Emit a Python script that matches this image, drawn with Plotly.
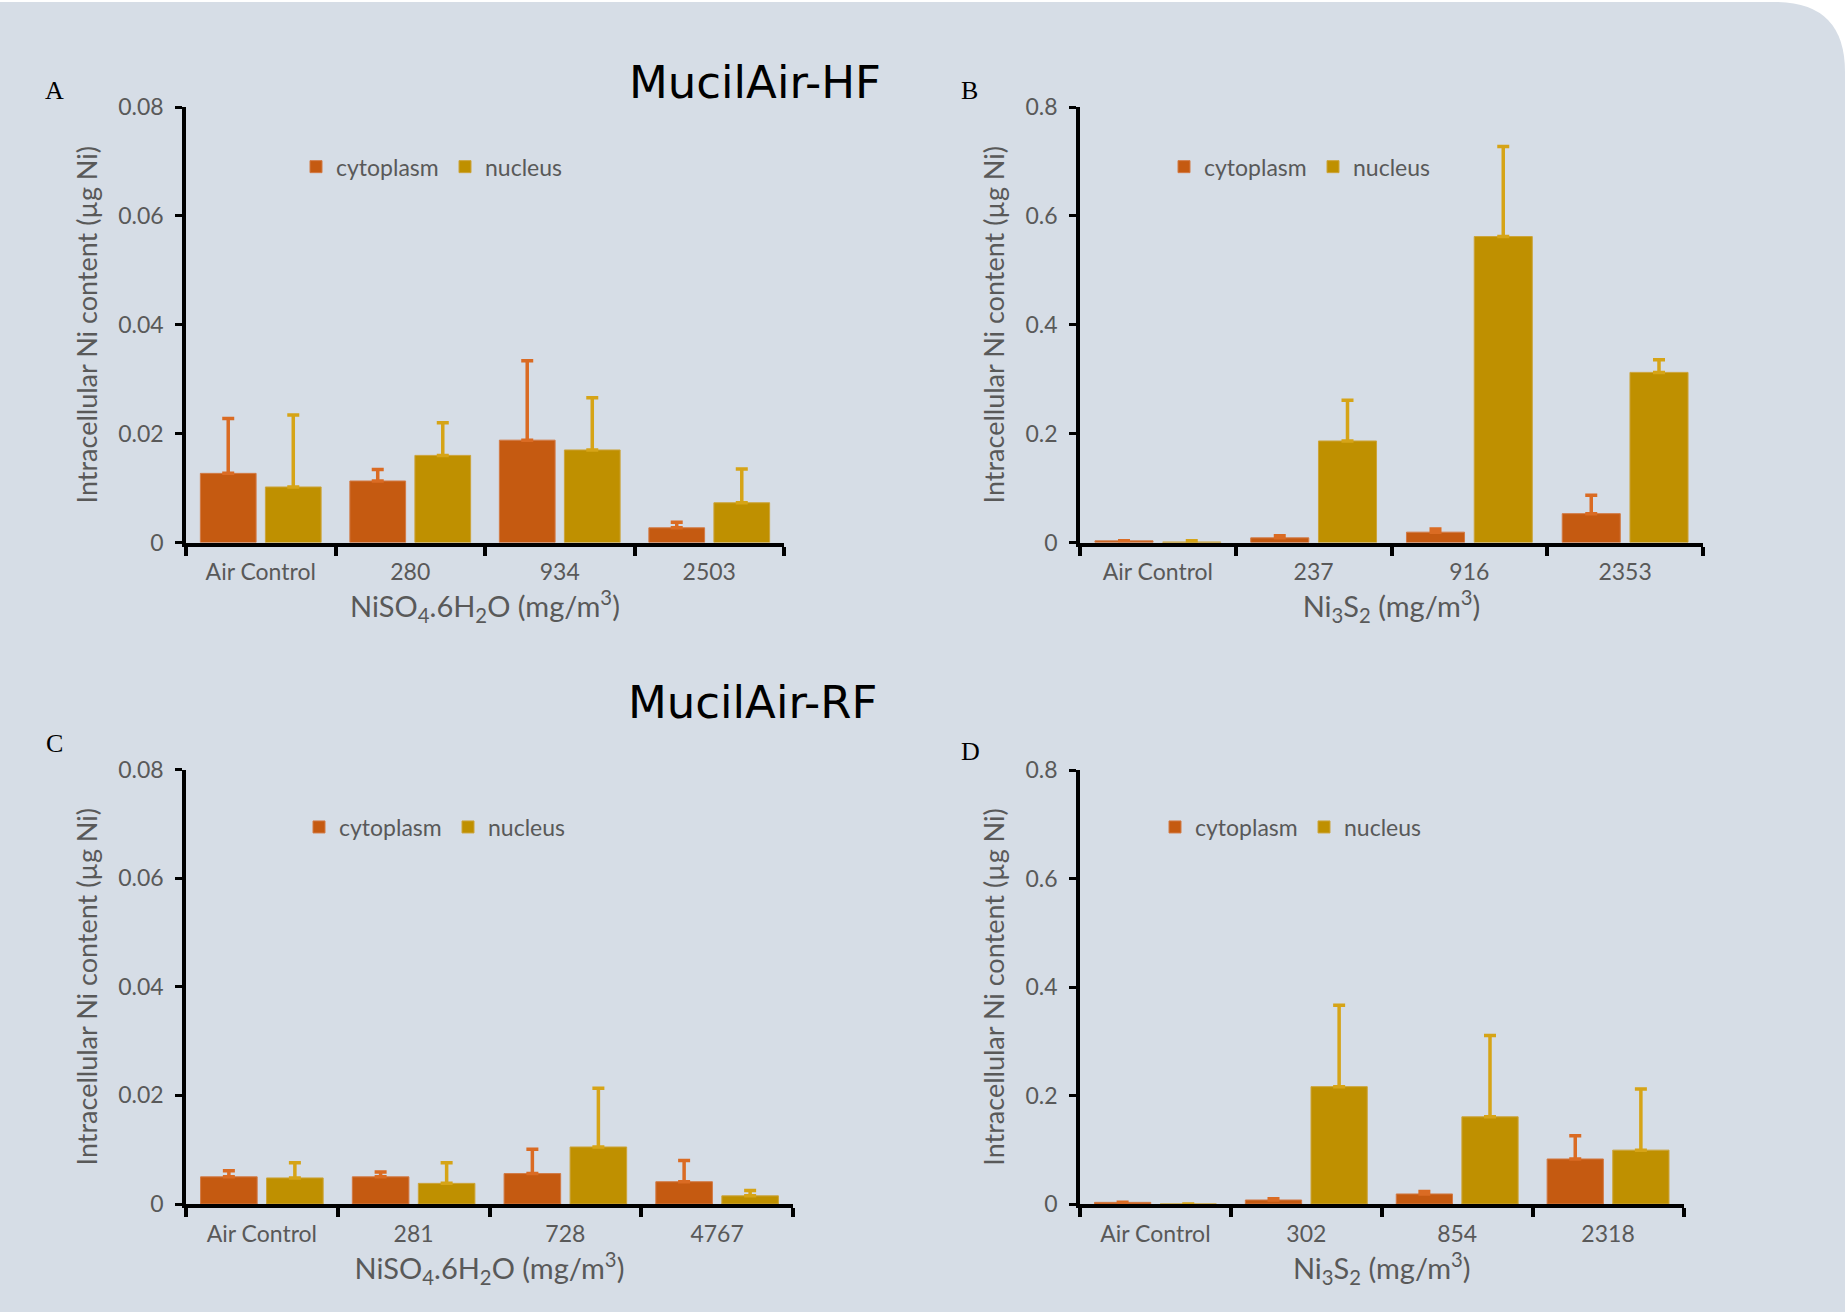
import plotly.graph_objects as go

W, H = 1845, 1312

# ---------------- data ----------------
cats_A = ["Air Control", "280", "934", "2503"]
cyto_A = [0.0127, 0.0113, 0.0188, 0.0027]
cyto_err_A = [0.0101, 0.0021, 0.0146, 0.0010]
nuc_A = [0.0102, 0.0160, 0.0170, 0.0073]
nuc_err_A = [0.0132, 0.0060, 0.0096, 0.0062]

cats_B = ["Air Control", "237", "916", "2353"]
cyto_B = [0.003, 0.0085, 0.019, 0.053]
cyto_err_B = [0.0, 0.004, 0.0056, 0.0337]
nuc_B = [0.001, 0.1865, 0.562, 0.3125]
nuc_err_B = [0.002, 0.075, 0.1655, 0.023]

cats_C = ["Air Control", "281", "728", "4767"]
cyto_C = [0.0050, 0.0050, 0.0056, 0.0041]
cyto_err_C = [0.0011, 0.0009, 0.0045, 0.0039]
nuc_C = [0.0048, 0.0038, 0.0105, 0.0015]
nuc_err_C = [0.0028, 0.0038, 0.0108, 0.0010]

cats_D = ["Air Control", "302", "854", "2318"]
cyto_D = [0.003, 0.0074, 0.0185, 0.083]
cyto_err_D = [0.0, 0.0022, 0.0045, 0.043]
nuc_D = [0.0, 0.2163, 0.1607, 0.0993]
nuc_err_D = [0.0, 0.150, 0.150, 0.1126]

ticks_small = [0, 0.02, 0.04, 0.06, 0.08]
ticks_small_txt = ["0", "0.02", "0.04", "0.06", "0.08"]
ticks_big = [0, 0.2, 0.4, 0.6, 0.8]
ticks_big_txt = ["0", "0.2", "0.4", "0.6", "0.8"]

series_names = ["cytoplasm", "nucleus"]
xtitle_sulfate = "NiSO<sub>4</sub>.6H<sub>2</sub>O (mg/m<sup>3</sup>)"
xtitle_sulfide = "Ni<sub>3</sub>S<sub>2</sub> (mg/m<sup>3</sup>)"
ytitle = "Intracellular Ni content (µg Ni)"

# ---------------- style ----------------
C_CYTO = "#C55A11"
C_NUC = "#BF9000"
C_CYTO_ERR = "#DA6B23"
C_NUC_ERR = "#D6A417"
GRAY = "#595959"
BG = "#D6DDE6"
FONT = "Lato"

def px_x(v):
    return v / W

def px_y(v):
    return 1 - v / H

panels = [
    (cats_A, cyto_A, cyto_err_A, nuc_A, nuc_err_A, "x", "y", "legend", (186, 784), (107, 542.5), ticks_small, ticks_small_txt, xtitle_sulfate, 0.08),
    (cats_B, cyto_B, cyto_err_B, nuc_B, nuc_err_B, "x2", "y2", "legend2", (1080, 1703), (107, 542.5), ticks_big, ticks_big_txt, xtitle_sulfide, 0.8),
    (cats_C, cyto_C, cyto_err_C, nuc_C, nuc_err_C, "x3", "y3", "legend3", (186, 793), (769.5, 1204), ticks_small, ticks_small_txt, xtitle_sulfate, 0.08),
    (cats_D, cyto_D, cyto_err_D, nuc_D, nuc_err_D, "x4", "y4", "legend4", (1080, 1683.5), (770, 1204), ticks_big, ticks_big_txt, xtitle_sulfide, 0.8),
]

legend_pos = {
    "legend": (296, 166.7),
    "legend2": (1164, 166.7),
    "legend3": (299, 827),
    "legend4": (1155, 827),
}

fig = go.Figure()
layout = dict(
    width=W, height=H,
    margin=dict(l=0, r=0, t=0, b=0, pad=0, autoexpand=False),
    paper_bgcolor="white",
    plot_bgcolor="rgba(0,0,0,0)",
    barmode="group",
    bargap=0.13,
    bargroupgap=0.143,
    font=dict(family=FONT, color=GRAY, size=22),
)

for (cats, cyto, cerr, nuc, nerr, xa, ya, leg, dx, dy, tv, tt, xt, ymax) in panels:
    fig.add_trace(go.Bar(
        x=cats, y=cyto, name=series_names[0], xaxis=xa, yaxis=ya, legend=leg,
        marker=dict(color=C_CYTO, line=dict(color="#D27A45", width=1)),
        error_y=dict(type="data", symmetric=False, array=cerr, arrayminus=[0] * len(cerr),
                     color=C_CYTO_ERR, thickness=3.5, width=6),
    ))
    fig.add_trace(go.Bar(
        x=cats, y=nuc, name=series_names[1], xaxis=xa, yaxis=ya, legend=leg,
        marker=dict(color=C_NUC, line=dict(color="#CCA43A", width=1)),
        error_y=dict(type="data", symmetric=False, array=nerr, arrayminus=[0] * len(nerr),
                     color=C_NUC_ERR, thickness=3.5, width=6),
    ))
    xkey = "xaxis" + xa[1:]
    ykey = "yaxis" + ya[1:]
    layout[xkey] = dict(
        domain=[px_x(dx[0]), px_x(dx[1])], anchor=ya,
        type="category", range=[-0.5, 3.5],
        showline=True, linecolor="black", linewidth=4,
        ticks="outside", tickson="boundaries", ticklen=9, tickwidth=3.5, tickcolor="black",
        ticklabelstandoff=6, automargin=False,
        showgrid=False, zeroline=False,
        tickfont=dict(family=FONT, size=23, color=GRAY),
        title=dict(text=xt, font=dict(family=FONT, size=29, color=GRAY), standoff=14),
    )
    layout[ykey] = dict(
        domain=[px_y(dy[1]), px_y(dy[0])], anchor=xa,
        range=[0, ymax],
        showline=True, linecolor="black", linewidth=3.5,
        ticks="outside", ticklen=7, tickwidth=3, tickcolor="black",
        tickvals=tv, ticktext=tt, ticklabelstandoff=7, automargin=False,
        showgrid=False, zeroline=False,
        tickfont=dict(family=FONT, size=23, color=GRAY),
        title=dict(text=ytitle, font=dict(family=FONT, size=27, color=GRAY), standoff=14),
    )
    lx, ly = legend_pos[leg]
    layout[leg] = dict(
        x=px_x(lx), y=px_y(ly), xanchor="left", yanchor="middle",
        orientation="h", bgcolor="rgba(0,0,0,0)", borderwidth=0,
        font=dict(family=FONT, size=23, color=GRAY),
        entrywidth=104, entrywidthmode="pixels", itemclick=False,
        tracegroupgap=0,
    )

# background panel with a rounded top-right corner
rx = 70 / W
ry = 70 / H
top = 1 - 2 / H
layout["shapes"] = [dict(
    type="path", xref="paper", yref="paper", layer="below",
    path=(f"M 0,0 L 1,0 L 1,{top - ry} Q 1,{top} {1 - rx},{top} L 0,{top} Z"),
    fillcolor=BG, line=dict(width=0),
)]

annotations = [
    dict(text="MucilAir-HF", x=px_x(755), y=px_y(83), font=dict(family="DejaVu Sans", size=45, color="black")),
    dict(text="MucilAir-RF", x=px_x(752), y=px_y(703), font=dict(family="DejaVu Sans", size=45, color="black")),
    dict(text="A", x=px_x(54.5), y=px_y(91), font=dict(family="Liberation Serif", size=26, color="black")),
    dict(text="B", x=px_x(969.5), y=px_y(91), font=dict(family="Liberation Serif", size=26, color="black")),
    dict(text="C", x=px_x(54), y=px_y(743), font=dict(family="Liberation Serif", size=26, color="black")),
    dict(text="D", x=px_x(970), y=px_y(751), font=dict(family="Liberation Serif", size=26, color="black")),
]
for a in annotations:
    a.update(xref="paper", yref="paper", showarrow=False, xanchor="center", yanchor="middle")
layout["annotations"] = annotations

fig.update_layout(**layout)
fig.write_html("out.html")
